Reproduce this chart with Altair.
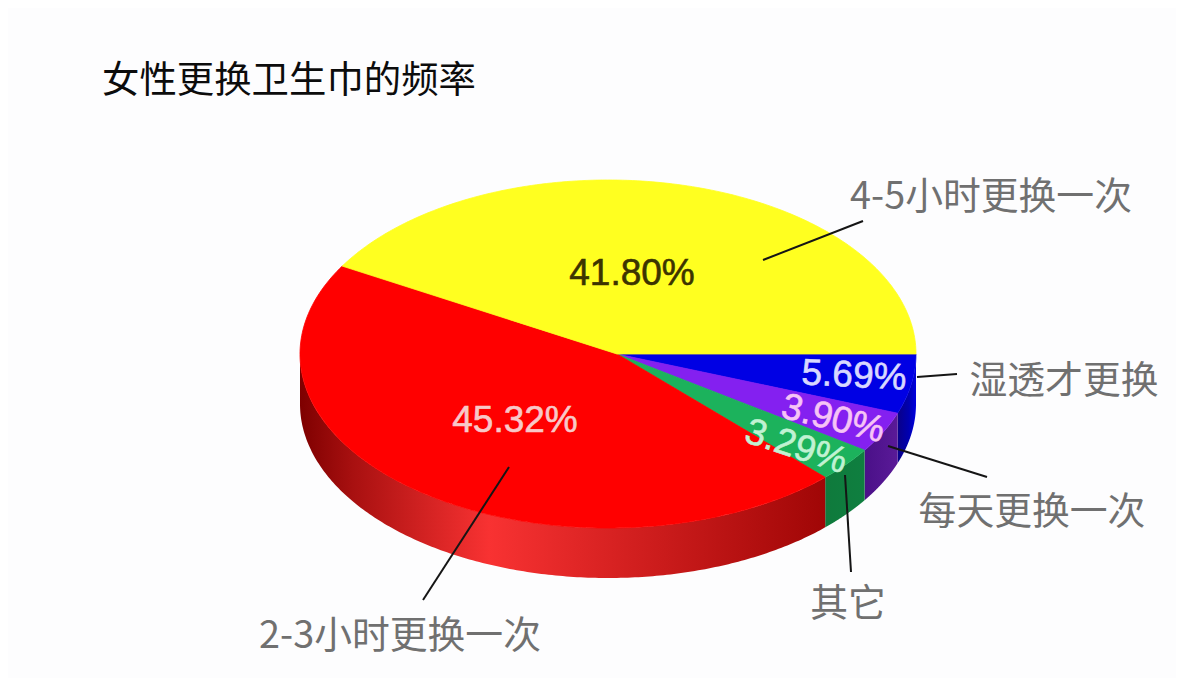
import numpy as np
import pandas as pd
import altair as alt

# ---- chart values, clockwise from the pie's right edge ----
categories = ["湿透才更换", "每天更换一次", "其它", "2-3小时更换一次", "4-5小时更换一次"]
shares = [5.69, 3.90, 3.29, 45.32, 41.80]
share_labels = ["5.69%", "3.90%", "3.29%", "45.32%", "41.80%"]
top_colors = ["#0000e4", "#8420f0", "#1cb25c", "#ff0000", "#ffff20"]
chart_title = "女性更换卫生巾的频率"

# ---- layout of the tilted pie (reference pixel space) ----
CX, CY, RX, RY, DEPTH = 608.0, 354.0, 308.0, 174.0, 50.0
HUB_X = 617.0
FONT = "Noto Sans CJK SC"
X = alt.X("x:Q", scale=alt.Scale(domain=[8, 1176], nice=False, zero=False), axis=None)
Y = alt.Y("y:Q", scale=alt.Scale(domain=[678, 8], nice=False, zero=False), axis=None)

cum = np.concatenate([[0.0], np.cumsum(shares)]) / sum(shares) * 2 * np.pi


def rim(t):
    # where the ray from the off-centre hub meets the ellipse
    k = (HUB_X - CX) / RX
    c, n = np.cos(t), np.sin(t)
    s = -k * c + np.sqrt(k * k * c * c - k * k + 1)
    return HUB_X + RX * c * s, CY + RY * n * s


# top faces
rows = []
for name, a0, a1 in zip(categories, cum[:-1], cum[1:]):
    ts = np.linspace(a0, a1, 160)
    xs, ys = rim(ts)
    pts = [(HUB_X, CY)] + list(zip(xs, ys)) + [(HUB_X, CY)]
    rows += [{"name": name, "i": i, "x": p[0], "y": p[1]} for i, p in enumerate(pts)]
top_df = pd.DataFrame(rows)


def grad(*stops):
    return alt.Gradient(
        gradient="linear", x1=0, x2=1, y1=0, y2=0,
        stops=[alt.GradientStop(offset=o, color=c) for o, c in stops],
    )


wall_fills = [
    grad((0, "#0a0088"), (0.6, "#0000b0"), (1, "#0000e0")),
    grad((0, "#4a1088"), (1, "#5a1a98")),
    grad((0, "#0f7a3c"), (1, "#0f7f40")),
    grad((0, "#7e0000"), (0.1, "#a81010"), (0.36, "#f83232"), (0.62, "#d42020"), (1, "#a00606")),
]
walls = []
for k, fill in enumerate(wall_fills):
    ts = np.linspace(cum[k], min(cum[k + 1], np.pi), 200)
    xs, ys = rim(ts)
    d = pd.DataFrame({"x": xs, "y": ys, "y2": ys + DEPTH}).sort_values("x")
    walls.append(
        alt.Chart(d).mark_area(color=fill).encode(x=X, y=Y, y2=alt.Y2("y2:Q"))
    )

tops = alt.Chart(top_df).mark_line(filled=True, strokeWidth=0.8).encode(
    x=X, y=Y, order="i:Q",
    color=alt.Color("name:N", scale=alt.Scale(domain=categories, range=top_colors), legend=None),
    stroke=alt.Stroke("name:N", scale=alt.Scale(domain=categories, range=top_colors), legend=None),
)

# leader lines
leaders = pd.DataFrame({
    "x": [763, 917, 888, 845, 509],
    "y": [260, 377, 446, 475, 467],
    "x2": [863, 957, 987, 851, 423],
    "y2": [221, 374, 477, 572, 600],
})
leader_layer = alt.Chart(leaders).mark_rule(color="#151515", strokeWidth=2).encode(
    x=X, y=Y, x2="x2:Q", y2="y2:Q"
)

# category labels
cat_df = pd.DataFrame({
    "t": categories,
    "x": [1064, 1032, 848, 400, 991],
    "y": [382, 513, 605, 637, 198],
})
cat_layer = alt.Chart(cat_df).mark_text(
    font=FONT, fontSize=37.8, color="#707070", baseline="middle", align="center"
).encode(x=X, y=Y, text="t:N")

# value labels
val_df = pd.DataFrame({
    "t": share_labels,
    "x": [854, 833, 796, 515, 632],
    "y": [376, 419, 447, 421, 274],
    "rot": [3, 14, 18, 0, 0],
    "c": ["#d8d8ff", "#f6c4f6", "#c0f2d2", "#f8c8c8", "#3c3400"],
})
val_layer = alt.Chart(val_df).mark_text(
    font="Liberation Sans", fontSize=37, baseline="middle", align="center", strokeWidth=0.6
).encode(
    x=X, y=Y, text="t:N",
    angle=alt.Angle("rot:Q", scale=None),
    color=alt.Color("c:N", scale=None),
    stroke=alt.Stroke("c:N", scale=None),
)

title_df = pd.DataFrame({"t": [chart_title], "x": [289], "y": [82]})
title_layer = alt.Chart(title_df).mark_text(
    font=FONT, fontSize=37.4, color="#0c0c0c", baseline="middle", align="center"
).encode(x=X, y=Y, text="t:N")

chart = alt.layer(
    *walls, tops, leader_layer, val_layer, cat_layer, title_layer
).properties(
    width=1168, height=670, padding=0, background="#fdfdfe",
    autosize=alt.AutoSizeParams(type="none"),
).configure_view(stroke=None)

chart.save("out.html", embed_options={"renderer": "svg", "actions": False})
